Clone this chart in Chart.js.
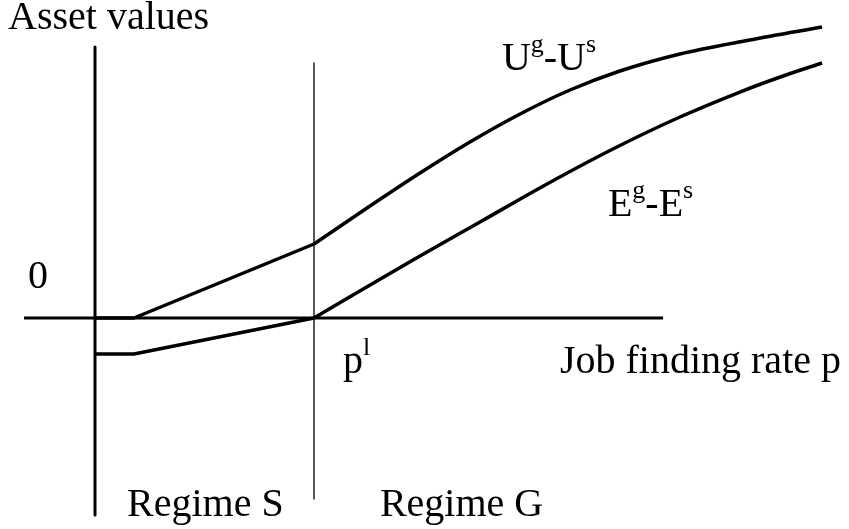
<!DOCTYPE html>
<html>
<head>
<meta charset="utf-8">
<script src="https://cdn.jsdelivr.net/npm/chart.js@4"></script>
<style>
  body{margin:0;background:#fff;}
  #chart{display:block;}
</style>
</head>
<body>
<canvas id="chart" width="849" height="529"></canvas>
<script>
// job finding rate p, measured so that p^l = 1
const pLow=1;
const kinkP=0.178;

// U^g-U^s : flat, straight up to p^l, then concave curve
const uLinX=[0,kinkP,pLow];
const uLinY=[0,0,1];
const uCurveX=[1,1.242,1.484,1.712,1.941,2.169,2.397,2.671,2.991,3.32];
const uCurveY=[1,1.486,1.959,2.378,2.757,3.081,3.338,3.568,3.757,3.932];

// E^g-E^s
const eLinX=[0,kinkP,pLow];
const eLinY=[-0.486,-0.486,0];
const eCurveX=[1,1.452,1.758,2.064,2.365,2.671,2.945,3.142,3.32];
const eCurveY=[0,0.784,1.297,1.811,2.284,2.716,3.054,3.270,3.446];

// axes drawn as lines
const yAxisX=[0,0];
const yAxisY=[3.662,-2.662];
const xAxisX=[-0.324,2.594];
const xAxisY=[0,0];
const regimeX=[pLow,pLow];
const regimeY=[3.446,-2.446];

// text labels: [text, superscript?] anchored in data units
const labels=[
  {parts:[["Asset values",0]],x:-0.397,y:3.905},
  {parts:[["0",0]],x:-0.306,y:0.405},
  {parts:[["p",0],["l",1]],x:1.132,y:-0.743},
  {parts:[["Job finding rate p",0]],x:2.123,y:-0.743},
  {parts:[["U",0],["g",1],["-U",0],["s",1]],x:1.858,y:3.351},
  {parts:[["E",0],["g",1],["-E",0],["s",1]],x:2.342,y:1.378},
  {parts:[["Regime S",0]],x:0.146,y:-2.676},
  {parts:[["Regime G",0]],x:1.301,y:-2.676}
];

function pts(xs,ys){
  return xs.map((x,i)=>({x:x,y:ys[i]}));
}

function line(xs,ys,width,smooth){
  return {
    data:pts(xs,ys),
    borderColor:"#000",
    borderWidth:width,
    pointRadius:0,
    fill:false,
    tension:0,
    borderJoinStyle:"round",
    cubicInterpolationMode:smooth?"monotone":"default"
  };
}

const textPlugin={
  id:"textLabels",
  afterDraw(chart){
    const c=chart.ctx;
    const sx=chart.scales.x;
    const sy=chart.scales.y;
    c.save();
    c.fillStyle="#000";
    c.textBaseline="alphabetic";
    c.textAlign="left";
    labels.forEach(l=>{
      let px=sx.getPixelForValue(l.x);
      const py=sy.getPixelForValue(l.y);
      l.parts.forEach(p=>{
        if(p[1]){
          c.font="26px 'Liberation Serif'";
          c.fillText(p[0],px,py-18);
        }else{
          c.font="40px 'Liberation Serif'";
          c.fillText(p[0],px,py);
        }
        px+=c.measureText(p[0]).width;
      });
    });
    c.restore();
  }
};

const ctx=document.getElementById("chart");
const myChart=new Chart(ctx,{
  type:"line",
  data:{
    datasets:[
      line(yAxisX,yAxisY,3,false),
      line(xAxisX,xAxisY,3,false),
      line(regimeX,regimeY,1.3,false),
      line(uLinX,uLinY,3.5,false),
      line(uCurveX,uCurveY,3.5,true),
      line(eLinX,eLinY,3.5,false),
      line(eCurveX,eCurveY,3.5,true)
    ]
  },
  options:{
    responsive:false,
    animation:false,
    layout:{padding:0},
    plugins:{legend:{display:false},tooltip:{enabled:false}},
    scales:{
      x:{type:"linear",display:false,min:-0.4338,max:3.4429},
      y:{type:"linear",display:false,min:-2.8514,max:4.2973}
    }
  },
  plugins:[textPlugin]
});
</script>
</body>
</html>
